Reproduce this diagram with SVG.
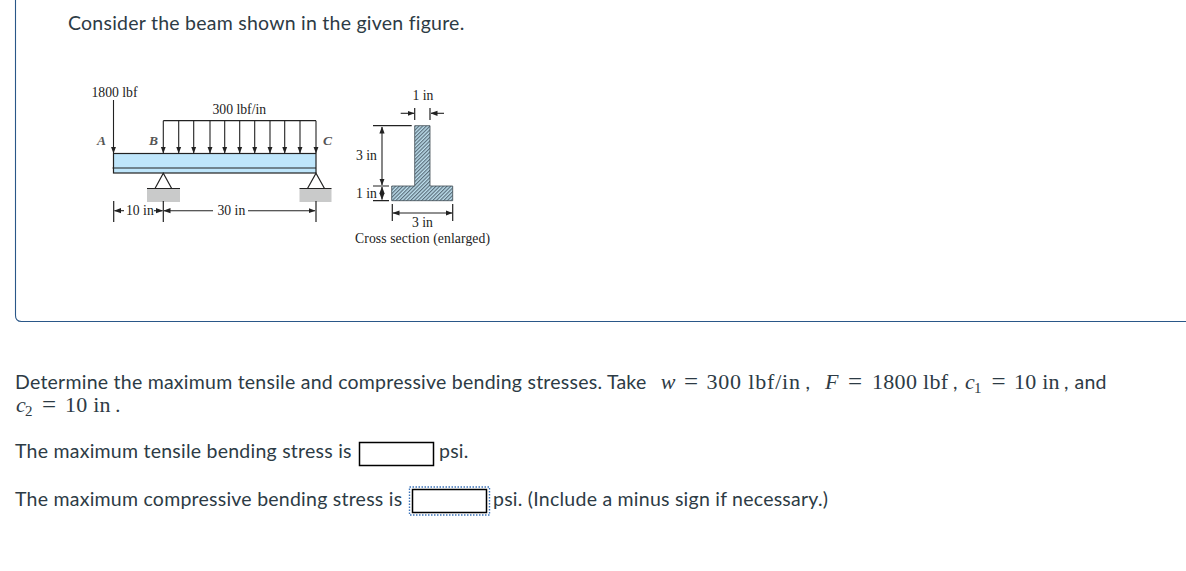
<svg xmlns="http://www.w3.org/2000/svg" width="1186" height="571" viewBox="0 0 1186 571">
<style>
.t{font-family:"Lato","Open Sans",sans-serif;font-size:19.5px;letter-spacing:.24px;fill:#2d3b45;font-variant-ligatures:none}
.m{font-family:"Liberation Serif","DejaVu Serif",serif;font-size:22px;fill:#2d3b45}
.e{font-family:"Liberation Serif","DejaVu Serif",serif;font-size:25px;fill:#2d3b45}
.s{font-family:"Liberation Serif","DejaVu Serif",serif;font-size:15px;fill:#2d3b45}
.i{font-style:italic}
.f{font-family:"Liberation Serif",serif;font-size:13.7px;fill:#222}
.fi{font-family:"Liberation Serif",serif;font-size:13.5px;font-style:italic;font-weight:bold;fill:#555}
.l{stroke:#222;stroke-width:1.2;fill:none}
.a{stroke:#222;stroke-width:1.1;fill:none;marker-end:url(#ah)}
.input{fill:#fff;stroke:#000;stroke-width:1.5}
</style>
<defs>
<marker id="ah" markerWidth="7" markerHeight="6" refX="6.5" refY="3" orient="auto-start-reverse" markerUnits="userSpaceOnUse"><path d="M0 0.4L7 3L0 5.6z" fill="#222"/></marker>
<pattern id="hatch" width="2.6" height="2.6" patternUnits="userSpaceOnUse" patternTransform="rotate(-45)"><rect width="2.6" height="2.6" fill="#bfe0ee"/><rect width="2.6" height="1.2" fill="#5b6f7c"/></pattern>
</defs>
<rect width="1186" height="571" fill="#fff"/>
<path id="panel" d="M15.5 0V315.5Q15.5 321.5 21.5 321.5H1186" fill="none" stroke="#2a5788" stroke-width="1.1"/>
<text class="t" x="68" y="30">Consider the beam shown in the given figure.</text>
<g id="beam">
<rect x="113.5" y="153.5" width="202.5" height="19.5" fill="#bfe6fb" stroke="#222" stroke-width="1.2"/>
<line class="l" x1="112.5" y1="168" x2="316" y2="168"/>
</g>
<g id="supports">
<rect x="147" y="188.5" width="33" height="13.5" fill="#c9caca"/>
<rect x="299.5" y="188.5" width="32" height="13.5" fill="#c9caca"/>
<path class="l" d="M147 188.5H180M155 188.5L163.3 173.3L171.7 188.5M299.5 188.5H331.5M307.5 188.5L316 173.3L324.5 188.5"/>
</g>
<g id="connectors">
<path class="l" d="M163.3 120.7H316"/>
<line class="a" x1="113.5" y1="100" x2="113.5" y2="153"/>
<line class="a" x1="163.3" y1="120.7" x2="163.3" y2="153"/>
<line class="a" x1="178.7" y1="120.7" x2="178.7" y2="153"/>
<line class="a" x1="193.7" y1="120.7" x2="193.7" y2="153"/>
<line class="a" x1="210" y1="120.7" x2="210" y2="153"/>
<line class="a" x1="224.7" y1="120.7" x2="224.7" y2="153"/>
<line class="a" x1="239.7" y1="120.7" x2="239.7" y2="153"/>
<line class="a" x1="254.7" y1="120.7" x2="254.7" y2="153"/>
<line class="a" x1="270" y1="120.7" x2="270" y2="153"/>
<line class="a" x1="284.7" y1="120.7" x2="284.7" y2="153"/>
<line class="a" x1="300" y1="120.7" x2="300" y2="153"/>
<line class="a" x1="316" y1="120.7" x2="316" y2="153"/>
<path class="l" d="M113.7 201V222M163.3 201V222M316 201V222"/>
<line class="a" x1="124" y1="210.7" x2="114.5" y2="210.7"/>
<line class="a" x1="153" y1="210.7" x2="162.5" y2="210.7"/>
<line class="a" x1="213" y1="210.7" x2="164" y2="210.7"/>
<line class="a" x1="248" y1="210.7" x2="315" y2="210.7"/>
<path class="l" d="M373 125.7H411.7M373 186H389M373 200.7H389M414.7 108V120M430 108V120M392.3 204V221M452.7 204V221"/>
<line class="a" x1="382" y1="127" x2="382" y2="185" marker-start="url(#ah)"/>
<line class="a" x1="382" y1="187" x2="382" y2="199.5" marker-start="url(#ah)"/>
<line class="a" x1="400.7" y1="113.3" x2="414" y2="113.3"/>
<line class="a" x1="444" y1="113.3" x2="431" y2="113.3"/>
<line class="a" x1="393" y1="213" x2="452" y2="213" marker-start="url(#ah)"/>
</g>
<g id="section">
<path d="M414.7 125.7H430V186H452.7V200.7H391.7V186H414.7Z" fill="url(#hatch)" stroke="#3c4a52" stroke-width="0.8"/>
</g>
<g id="figure-labels">
<text class="f" x="91.5" y="97">1800 lbf</text>
<text class="f" x="212.5" y="114">300 lbf/in</text>
<text class="fi" x="97" y="145">A</text>
<text class="fi" x="149" y="145">B</text>
<text class="fi" x="323" y="145">C</text>
<rect x="125" y="204" width="29" height="13" fill="#fff"/>
<rect x="215" y="204" width="32" height="13" fill="#fff"/>
<text class="f" x="126" y="215">10 in</text>
<text class="f" x="217.5" y="215">30 in</text>
<text class="f" x="412.5" y="100">1 in</text>
<text class="f" x="356" y="160">3 in</text>
<text class="f" x="356" y="197.5">1 in</text>
<text class="f" x="412" y="226.5">3 in</text>
<text class="f" x="355" y="243" textLength="135">Cross section (enlarged)</text>
</g>
<text class="t" x="15" y="389">Determine the maximum tensile and compressive bending stresses. Take</text>
<text class="m i" x="660.7" y="389">w</text>
<text class="e" x="684" y="390">=</text>
<text class="m" x="706.5" y="389" textLength="93.5">300 lbf/in</text>
<text class="t" x="805.5" y="389">,</text>
<text class="m i" x="825" y="389">F</text>
<text class="e" x="848" y="390">=</text>
<text class="m" x="872" y="389" textLength="76">1800 lbf</text>
<text class="t" x="953" y="389">,</text>
<text class="m i" x="965" y="389">c</text>
<text class="s" x="974" y="393">1</text>
<text class="e" x="991.5" y="390">=</text>
<text class="m" x="1014" y="389" textLength="45.5">10 in</text>
<text class="t" x="1064" y="389">,</text>
<text class="t" x="1074.5" y="389">and</text>
<text class="m i" x="16" y="412">c</text>
<text class="s" x="25" y="416">2</text>
<text class="e" x="42" y="413">=</text>
<text class="m" x="65" y="412" textLength="45.5">10 in</text>
<text class="t" x="115.5" y="412">.</text>
<text class="t" x="15" y="458">The maximum tensile bending stress is</text>
<rect id="input1" class="input" x="359.5" y="442.5" width="74" height="23"/>
<text class="t" x="439" y="458">psi.</text>
<text class="t" x="15" y="506">The maximum compressive bending stress is</text>
<rect id="focus" x="409.5" y="487" width="80" height="28" fill="none" stroke="#3b73b9" stroke-width="1.4" stroke-dasharray="1.5 1.5"/>
<rect id="input2" class="input" x="412.5" y="489.5" width="74" height="23"/>
<text class="t" x="493" y="506">psi. (Include a minus sign if necessary.)</text>
</svg>
